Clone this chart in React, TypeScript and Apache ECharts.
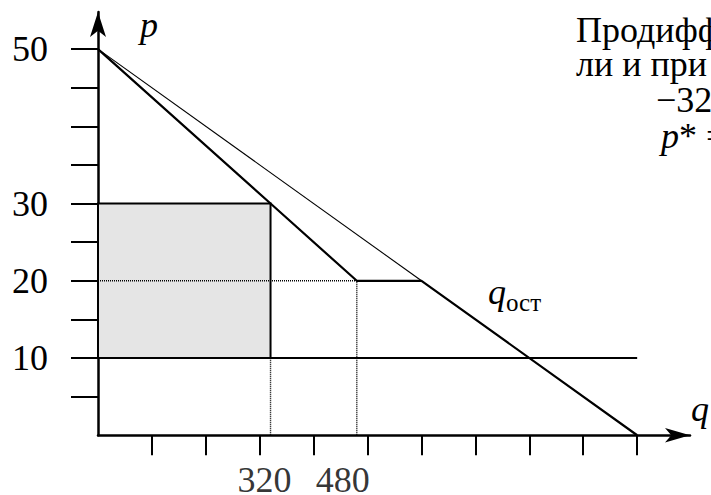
import React, { useEffect, useRef } from "react";
import * as echarts from "echarts";

// Residual demand (q_ост) broken line
const resQ = [0, 320, 480, 600, 1000];
const resP = [50, 30, 20, 20, 0];
// Original market demand segment (thin)
const mktQ = [0, 600];
const mktP = [50, 20];
// Horizontal price line p = 10
const priceQ = [0, 1000];
const priceLevel = 10;
// Shaded rectangle (profit area)
const rectQ = [0, 320];
const rectP = [10, 30];
// Dotted guide lines
const guideHQ = [0, 480];
const guideHP = 20;
const guideV1Q = 320;
const guideV1P = [0, 10];
const guideV2Q = 480;
const guideV2P = [0, 20];
// Axis ticks and labels
const yTicks = [5, 10, 15, 20, 25, 30, 35, 40, 45, 50];
const yLabels = [10, 20, 30, 50];
const xTicks = [100, 200, 300, 400, 500, 600, 700, 800, 900, 1000];
const xLabels = [320, 480];
const xLabelShift = [-6, -14];

const FONT = "'Liberation Serif', 'Times New Roman', Times, serif";

export default function App() {
  const ref = useRef<HTMLDivElement>(null);
  useEffect(() => {
    if (!ref.current) return;
    const chart = echarts.init(ref.current, null, { renderer: "svg" });
    const black = "#000";
    const txt = (
      text: string,
      left: number,
      top: number,
      size: number,
      italic = false,
      lineHeight?: number,
      rich?: any
    ) => ({
      type: "text",
      left,
      top,
      style: {
        text,
        fontFamily: FONT,
        fontSize: size,
        fontStyle: italic ? "italic" : "normal",
        lineHeight: lineHeight ?? size,
        fill: black,
        rich,
      },
    });
    const option: any = {
      animation: false,
      backgroundColor: "#fff",
      grid: { left: 98, right: 21, top: 12, bottom: 59.75 },
      xAxis: {
        type: "value",
        min: 0,
        max: 1098,
        splitLine: { show: false },
        axisLine: {
          show: true,
          onZero: false,
          symbol: ["none", "arrow"],
          symbolSize: [11, 25],
          lineStyle: { color: black, width: 2.5 },
        },
        axisTick: {
          show: true,
          inside: false,
          length: 20,
          customValues: xTicks,
          lineStyle: { color: black, width: 2 },
        },
        axisLabel: { show: false },
      },
      yAxis: {
        type: "value",
        min: 0,
        max: 54.8,
        splitLine: { show: false },
        axisLine: {
          show: true,
          onZero: false,
          symbol: ["none", "arrow"],
          symbolSize: [12, 25],
          lineStyle: { color: black, width: 2.5 },
        },
        axisTick: {
          show: true,
          inside: false,
          length: 27,
          customValues: yTicks,
          lineStyle: { color: black, width: 2 },
        },
        axisLabel: {
          show: true,
          customValues: yLabels,
          margin: 50,
          color: black,
          fontFamily: FONT,
          fontSize: 36,
          lineHeight: 30,
          padding: [8, 0, 0, 0],
        },
      },
      series: [
        {
          type: "custom",
          z: 1,
          data: [[rectQ[0], rectP[0], rectQ[1], rectP[1]]],
          encode: { x: [0, 2], y: [1, 3] },
          renderItem: (params: any, api: any) => {
            const tl = api.coord([api.value(0), api.value(3)]);
            const br = api.coord([api.value(2), api.value(1)]);
            return {
              type: "rect",
              shape: { x: tl[0], y: tl[1], width: br[0] - tl[0], height: br[1] - tl[1] },
              style: { fill: "#e5e5e5", stroke: black, lineWidth: 2 },
            };
          },
        },
        {
          type: "line",
          z: 3,
          symbol: "none",
          data: resQ.map((q, i) => [q, resP[i]]),
          lineStyle: { color: black, width: 2.2 },
        },
        {
          type: "line",
          z: 3,
          symbol: "none",
          data: mktQ.map((q, i) => [q, mktP[i]]),
          lineStyle: { color: black, width: 1.1 },
        },
        {
          type: "line",
          z: 3,
          symbol: "none",
          data: priceQ.map((q) => [q, priceLevel]),
          lineStyle: { color: black, width: 1.8 },
        },
        {
          type: "line",
          z: 2,
          symbol: "none",
          data: guideHQ.map((q) => [q, guideHP]),
          lineStyle: { color: black, width: 1.4, type: [1, 1] },
        },
        {
          type: "line",
          z: 2,
          symbol: "none",
          data: guideV1P.map((p) => [guideV1Q, p]),
          lineStyle: { color: black, width: 1.4, type: [1, 1] },
        },
        {
          type: "line",
          z: 2,
          symbol: "none",
          data: guideV2P.map((p) => [guideV2Q, p]),
          lineStyle: { color: black, width: 1.4, type: [1, 1] },
        },
        {
          type: "scatter",
          symbolSize: 0,
          silent: true,
          data: xLabels.map((q, i) => ({
            value: [q, 0],
            label: {
              show: true,
              position: "inside",
              offset: [xLabelShift[i], 45],
              formatter: String(q),
              color: black,
              fontFamily: FONT,
              fontSize: 36,
              lineHeight: 28,
            },
          })),
        },
      ],
      graphic: [
        txt("p", 140, 7, 36, true, 32),
        txt("q", 691, 391, 36, true, 32),
        txt("q", 488, 274, 36, true, 32),
        txt("ост", 506, 290, 25, false, 22),
        txt("Продифф", 576, 12, 36, false, 32),
        txt("ли и при", 576, 46, 36, false, 32),
        txt("−32", 656, 82, 36, false, 32),
        txt("{i|p}* =", 661, 118, 36, false, 32, {
          i: { fontStyle: "italic", fontFamily: FONT, fontSize: 36, lineHeight: 32 },
        }),
      ],
    };
    chart.setOption(option);
    return () => chart.dispose();
  }, []);
  return (
    <div
      ref={ref}
      style={{ position: "fixed", left: 0, top: 0, width: 711, height: 495, background: "#fff" }}
    />
  );
}
